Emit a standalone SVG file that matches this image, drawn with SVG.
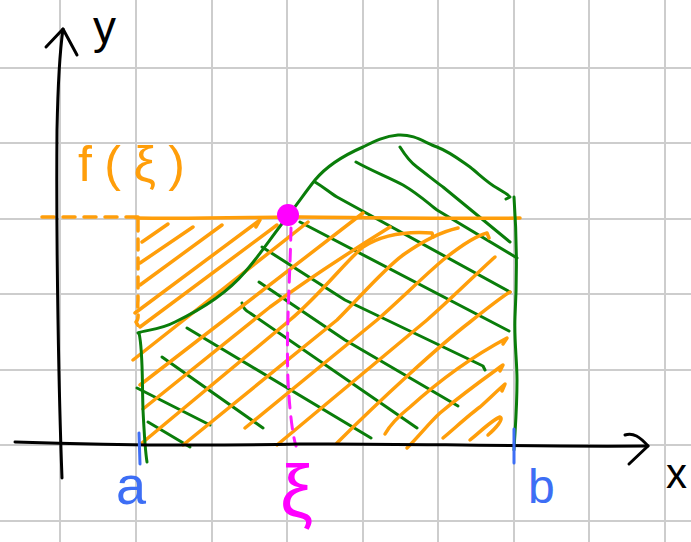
<svg xmlns="http://www.w3.org/2000/svg" width="691" height="542" viewBox="0 0 691 542">
<style>
.grid{stroke:#cdcdcd;stroke-width:2;fill:none}
.ax{stroke:#000;stroke-width:3;fill:none;stroke-linecap:round;stroke-linejoin:round}
.or{stroke:#ff9e0a;stroke-width:3.5;fill:none;stroke-linecap:round;stroke-linejoin:round}
.gr{stroke:#0a7d0a;stroke-width:3;fill:none;stroke-linecap:round;stroke-linejoin:round}
.mg{stroke:#ff1aff;stroke-width:3;fill:none;stroke-linecap:round}
.bl{stroke:#3d6ef5;stroke-width:3;fill:none;stroke-linecap:round}
.lbl{font-family:"Liberation Sans",Arial,sans-serif}
</style>
<rect width="691" height="542" fill="#fff"/>
<g id="grid" class="grid">
<path d="M60,0V542M136,0V542M212,0V542M287,0V542M363,0V542M438,0V542M514,0V542M589,0V542M665,0V542"/>
<path d="M0,68H691M0,143H691M0,219H691M0,294H691M0,370H691M0,445H691M0,521H691"/>
</g>
<g id="green-hatch" class="gr">
<path d="M400,147 C405,155 410,162 417,167 C430,177 440,185 443,187 L510,242"/>
<path d="M356,162 C370,170 390,178 403,185 C420,195 430,205 437,210 L517,258"/>
<path d="M315,182 C325,188 330,193 337,197 L510,292"/>
<path d="M300,222 L509,331"/>
<path d="M262,247 L345,300 L483,366 L485,370"/>
<path d="M259,282 L345,340 L458,406"/>
<path d="M242,303 C243,308 246,311 250,313 L417,428"/>
<path d="M187,328 L371,438"/>
<path d="M162,357 L263,428"/>
<path d="M137,388 L210,425"/>
<path d="M148,422 L190,447"/>
</g>
<g id="orange-hatch" class="or">
<path d="M142,242 L168,224"/>
<path d="M140,263 L193,227"/>
<path d="M140,285 L222,225"/>
<path d="M135,313 L260,220 L256,227"/>
<path d="M140,327 L277,225"/>
<path d="M133,360 L308,222"/>
<path d="M140,385 L363,213"/>
<path d="M143,409 L270,307 C300,285 345,255 390,227"/>
<path d="M142,443 L290,320 C320,295 345,262 363,247 C380,236 405,231 432,233 L433,237"/>
<path d="M183,445 L337,320 C360,297 385,268 403,255 C420,243 440,232 458,228"/>
<path d="M245,428 L377,320 C400,300 425,275 443,260 C458,248 475,236 487,233 L489,238"/>
<path d="M277,445 L427,320 C450,300 478,272 495,257"/>
<path d="M337,443 C380,400 440,345 470,322 C485,310 500,298 510,292"/>
<path d="M385,434 C390,425 400,415 410,407 C440,380 475,355 507,338 L503,344"/>
<path d="M407,448 C420,435 430,422 440,413 C465,392 485,378 503,365 L500,371"/>
<path d="M443,438 C455,428 470,414 480,407 C490,398 498,390 505,384 L502,391"/>
<path d="M470,440 C480,432 492,420 500,417 C504,419 496,428 488,435"/>
</g>
<g id="region">
<path class="or" d="M42,217 L140,217" stroke-dasharray="12 9"/>
<path class="or" d="M136,218 C200,219 260,217 300,217 C400,218 460,219 520,218"/>
<path class="or" d="M138,220 L138,300 C137,312 140,318 136,322 C138,326 141,328 138,331" stroke-dasharray="11 8"/>
<path class="gr" d="M138,333 C145,330 160,330 175,322 C200,310 228,292 245,272 C260,255 275,232 288,216 C298,203 307,190 315,180 C325,168 340,157 363,147 C375,141 385,136 398,135 C415,134 425,143 437,147 C450,152 460,160 470,167 C480,175 488,183 497,188 C503,192 508,194 510,197 L506,199"/>
<path class="gr" d="M514,197 C517,240 517,280 515,317 C514,340 517,360 517,380 C517,410 515,430 514,450"/>
<path class="gr" d="M139,333 C143,350 142,380 143,410 C144,430 145,450 147,462"/>
</g>
<g id="xi-marker">
<path class="mg" d="M291,228 C290,280 286,330 288,380 C290,420 294,440 296,446" stroke-dasharray="12 9"/>
<circle cx="288" cy="215" r="11" fill="#ff00ff"/>
</g>
<g id="axes" class="ax">
<path d="M62,478 C59,400 56,250 57,130 C58,80 60,50 63,29"/>
<path d="M46,47 L63,29 L77,55"/>
<path d="M15,442 C100,445 200,446 300,444 C400,443 500,447 648,446"/>
<path d="M625,435 C633,432 640,437 648,446 L629,464"/>
</g>
<g id="ticks" class="bl">
<path d="M139,433 L140,464"/>
<path d="M514,429 L514,463"/>
</g>
<g id="labels" class="lbl">
<text x="93" y="43" font-size="46" fill="#000">y</text>
<text x="666" y="488" font-size="42" fill="#000">x</text>
<text x="78" y="181" font-size="50" fill="#ff9e0a" textLength="107" lengthAdjust="spacing">f(ξ)</text>
<text x="116" y="504" font-size="54" fill="#3d6ef5">a</text>
<text x="528" y="503" font-size="48" fill="#3d6ef5">b</text>
<text x="280" y="517" font-size="74" fill="#ff00ff">ξ</text>
</g>
</svg>
